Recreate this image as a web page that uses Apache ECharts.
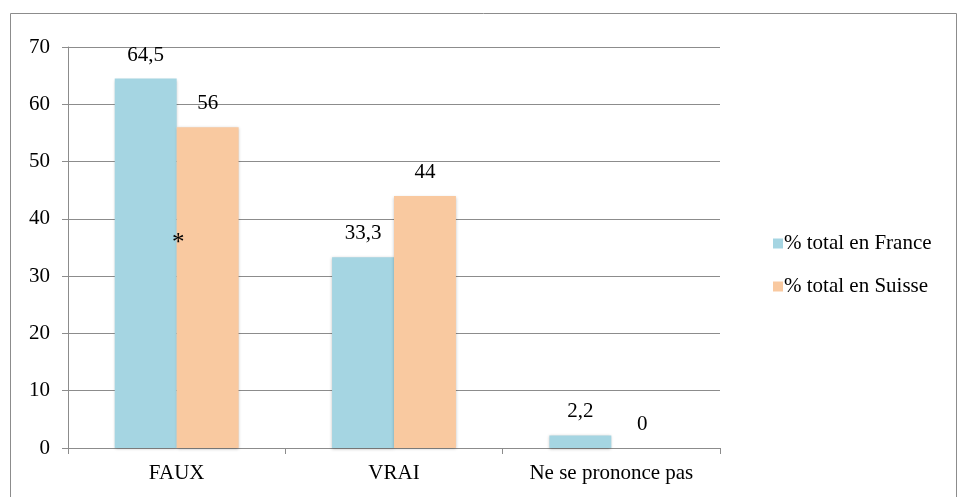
<!DOCTYPE html>
<html>
<head>
<meta charset="utf-8">
<script src="https://cdn.jsdelivr.net/npm/echarts@6/dist/echarts.min.js"></script>
<style>
    html, body { margin: 0; padding: 0; background: #fff; }
    #chart { width: 959px; height: 497px; }
</style>
</head>
<body>
<div id="chart"></div>
<script>
var categories = ['FAUX', 'VRAI', 'Ne se prononce pas'];
var seriesNames = ['% total en France', '% total en Suisse'];
var franceValues = [64.5, 33.3, 2.2];
var suisseValues = [56, 44, 0];
var yTicks = [0, 10, 20, 30, 40, 50, 60, 70];

var fontFamily = 'Liberation Serif';
var fontSize = 21;

function frLabel(p) {
    return String(p.value).replace('.', ',');
}

var chart = echarts.init(document.getElementById('chart'));
var option = {
    backgroundColor: '#fff',
    textStyle: { fontFamily: fontFamily },
    graphic: [
        {
            type: 'rect',
            z: 100,
            shape: { x: 10.5, y: 13.5, width: 946, height: 490 },
            style: { fill: 'none', stroke: '#8c8c8c', lineWidth: 1 },
            silent: true
        },
        {
            // asterisk note between the FAUX bars
            type: 'text',
            z: 100,
            left: 172,
            top: 231,
            style: { text: '*', fontSize: 25, fontFamily: fontFamily, fill: '#000' },
            silent: true
        }
    ],
    grid: {
        left: 68,
        top: 47,
        right: 239,
        bottom: 49,
        containLabel: false
    },
    legend: {
        orient: 'vertical',
        left: 768,
        top: 228,
        itemWidth: 10,
        itemHeight: 10,
        itemGap: 22,
        icon: 'rect',
        textStyle: { fontSize: fontSize, color: '#000', fontFamily: fontFamily, padding: [0, 0, 0, -4] },
        data: seriesNames
    },
    xAxis: {
        type: 'category',
        data: categories,
        axisLine: { lineStyle: { color: '#8c8c8c', width: 1 } },
        axisTick: { show: true, length: 6, lineStyle: { color: '#8c8c8c' } },
        axisLabel: { fontSize: fontSize, color: '#000', margin: 15, fontFamily: fontFamily }
    },
    yAxis: {
        type: 'value',
        min: yTicks[0],
        max: yTicks[yTicks.length - 1],
        interval: 10,
        axisLine: { show: true, lineStyle: { color: '#8c8c8c', width: 1 } },
        axisTick: { show: true, length: 6, lineStyle: { color: '#8c8c8c' } },
        axisLabel: { fontSize: fontSize, color: '#000', margin: 18, fontFamily: fontFamily },
        splitLine: { show: true, lineStyle: { color: '#8c8c8c', width: 1 } }
    },
    series: [
        {
            name: seriesNames[0],
            type: 'bar',
            data: franceValues,
            barGap: '0%',
            barCategoryGap: '43%',
            itemStyle: {
                color: '#a5d5e2',
                shadowColor: 'rgba(0,0,0,0.25)',
                shadowBlur: 3,
                shadowOffsetY: 1
            },
            label: {
                show: true,
                position: 'top',
                distance: 13,
                fontSize: fontSize,
                color: '#000',
                fontFamily: fontFamily,
                formatter: frLabel
            }
        },
        {
            name: seriesNames[1],
            type: 'bar',
            data: suisseValues,
            itemStyle: {
                color: '#f9c9a0',
                shadowColor: 'rgba(0,0,0,0.25)',
                shadowBlur: 3,
                shadowOffsetY: 1
            },
            label: {
                show: true,
                position: 'top',
                distance: 13,
                fontSize: fontSize,
                color: '#000',
                fontFamily: fontFamily,
                formatter: frLabel
            }
        }
    ]
};
chart.setOption(option);
window.addEventListener('resize', function () {
    chart.resize();
});
</script>
</body>
</html>
